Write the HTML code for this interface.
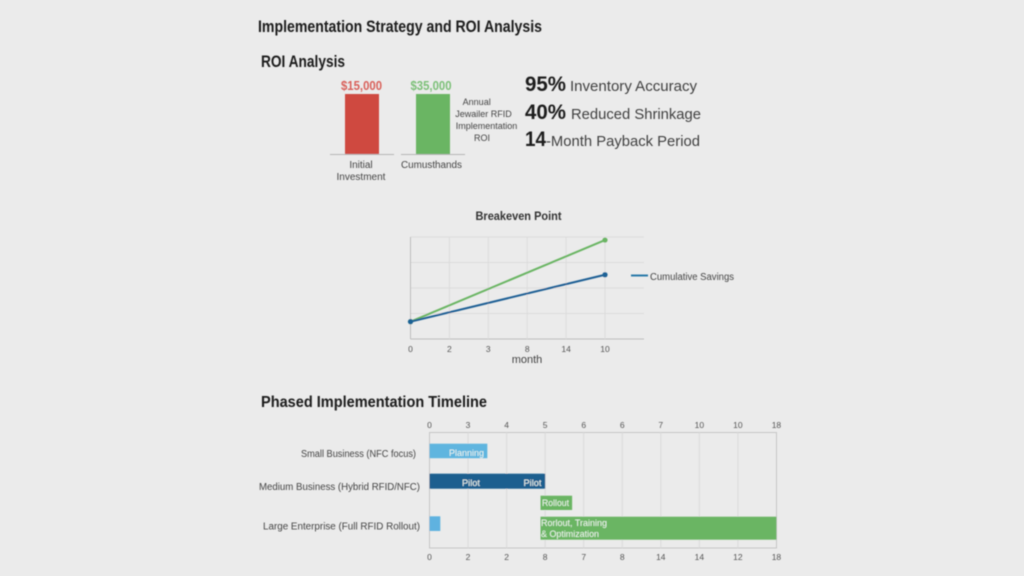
<!DOCTYPE html>
<html lang="en">
<head>
<meta charset="utf-8">
<title>Implementation Strategy and ROI Analysis</title>
<style>
html,body{margin:0;padding:0;width:1024px;height:576px;background:#ebebeb;overflow:hidden}
svg{display:block;font-family:"Liberation Sans",sans-serif}
</style>
</head>
<body>
<svg id="root" xmlns="http://www.w3.org/2000/svg" width="1024" height="576" viewBox="0 0 1024 576">
<defs><filter id="soft" x="-2%" y="-2%" width="104%" height="104%"><feGaussianBlur stdDeviation="0.45"/></filter></defs>
<rect width="1024" height="576" fill="#ebebeb"/>
<g id="scene" filter="url(#soft)">
<text x="258" y="32" font-size="17" font-weight="700" fill="#1b1b1b" textLength="284" lengthAdjust="spacingAndGlyphs">Implementation Strategy and ROI Analysis</text>
<text x="261" y="67" font-size="16.5" font-weight="700" fill="#1b1b1b" textLength="84" lengthAdjust="spacingAndGlyphs">ROI Analysis</text>

<g id="bars"></g>
<g font-size="9" fill="#444" text-anchor="middle">
<text x="476.7" y="105">Annual</text>
<text x="483.5" y="117">Jewailer RFID</text>
<text x="486.5" y="129">Implementation</text>
<text x="482" y="141">ROI</text>
</g>

<g>
<text x="525" y="91" font-size="21.5" font-weight="700" fill="#1b1b1b" textLength="41" lengthAdjust="spacingAndGlyphs">95%</text>
<text x="570" y="91" font-size="15" fill="#3f3f3f" textLength="127" lengthAdjust="spacingAndGlyphs">Inventory Accuracy</text>
</g>
<g>
<text x="525" y="119" font-size="21.5" font-weight="700" fill="#1b1b1b" textLength="41" lengthAdjust="spacingAndGlyphs">40%</text>
<text x="571" y="119" font-size="15" fill="#3f3f3f" textLength="130" lengthAdjust="spacingAndGlyphs">Reduced Shrinkage</text>
</g>
<g>
<text x="525" y="146" font-size="21.5" font-weight="700" fill="#1b1b1b" textLength="21" lengthAdjust="spacingAndGlyphs">14</text>
<text x="546" y="146" font-size="15" fill="#3f3f3f" textLength="154" lengthAdjust="spacingAndGlyphs">-Month Payback Period</text>
</g>

<text x="475.5" y="220" font-size="12" font-weight="700" fill="#333" textLength="86" lengthAdjust="spacingAndGlyphs">Breakeven Point</text>
<g id="line"></g>
<text x="527" y="363" font-size="11" fill="#444" text-anchor="middle">month</text>
<line x1="631" y1="275.5" x2="648" y2="275.5" stroke="#2a79a8" stroke-width="2"/>
<text x="650" y="280" font-size="10" fill="#444" textLength="84" lengthAdjust="spacingAndGlyphs">Cumulative Savings</text>

<text x="261" y="407" font-size="16" font-weight="700" fill="#1b1b1b" textLength="226" lengthAdjust="spacingAndGlyphs">Phased Implementation Timeline</text>
<g id="gantt"></g>
<text x="301" y="457" font-size="10" fill="#444" textLength="115" lengthAdjust="spacingAndGlyphs">Small Business (NFC focus)</text>
<text x="259" y="490" font-size="10" fill="#444" textLength="161" lengthAdjust="spacingAndGlyphs">Medium Business (Hybrid RFID/NFC)</text>
<text x="263" y="529.5" font-size="10" fill="#444" textLength="157" lengthAdjust="spacingAndGlyphs">Large Enterprise (Full RFID Rollout)</text>
</g>
</svg>
<script>
/* ROI bars: printed values and visible bar heights (the picture draws both bars equally tall) */
var barCategories = ['Initial', 'Cumusthands'];
var barPrinted = ['$15,000', '$35,000'];
var barHeights = [100, 100];

/* Breakeven chart */
var monthTicks = ['0', '2', '3', '8', '14', '10'];
var lineGreenValues = [17, null, null, null, null, 97];
var lineBlueValues = [17, null, null, null, null, 63];

/* Timeline chart, in tick-slot units */
var timelineTopTicks = ['0', '3', '4', '5', '6', '6', '7', '10', '10', '18'];
var timelineBottomTicks = ['0', '2', '2', '8', '7', '8', '14', '14', '12', '18'];
var taskNames = ['planning', 'pilot', 'rollout', 'large-start', 'rollout-training'];
var taskStarts = [0, 0, 2.88, 0, 2.88];
var taskEnds = [1.5, 3, 3.7, 0.28, 9];

var NS = 'http://www.w3.org/2000/svg';
function mk(tag, parent, attrs, txt) {
  var el = document.createElementNS(NS, tag);
  for (var k in attrs) el.setAttribute(k, attrs[k]);
  if (txt !== undefined) el.textContent = txt;
  parent.appendChild(el);
  return el;
}

/* ---------- bars ---------- */
var barsG = document.getElementById('bars');
var barBase = 154, barScale = 0.6;
var barX = function (i) { return 345 + i * 71; };
var barFill = ['#cf4a40', '#6ab563'];
var labelFill = ['#d9605a', '#7cc078'];
barHeights.forEach(function (v, i) {
  var h = v * barScale;
  var r = mk('rect', barsG, {x: barX(i), y: barBase - h, width: 34, height: h, fill: barFill[i]});
  
  
  var t = mk('text', barsG, {x: barX(i) + 16.5 - i * 1.5, y: barBase - h - 4, 'font-size': 12.5, fill: labelFill[i], 'text-anchor': 'middle', 'font-weight': 700, textLength: 41, lengthAdjust: 'spacingAndGlyphs'}, barPrinted[i]);
  
  
  var base = mk('line', barsG, {x1: barX(i) - 15, x2: barX(i) + 49, y1: barBase + .5, y2: barBase + .5, stroke: '#b5b5b5', 'stroke-width': 1});
  
  
});
var c1 = mk('text', barsG, {x: 361, y: 168, 'font-size': 10, fill: '#444', 'text-anchor': 'middle'}, barCategories[0]);


var c1b = mk('text', barsG, {x: 361, y: 180, 'font-size': 10, fill: '#444', 'text-anchor': 'middle'}, 'Investment');


var c2 = mk('text', barsG, {x: 401, y: 168, 'font-size': 10, fill: '#444', textLength: 61, lengthAdjust: 'spacingAndGlyphs'}, barCategories[1]);



/* ---------- line chart ---------- */
var lineG = document.getElementById('line');
var lx = function (i) { return 410.5 + i * 38.9; };
var ly = function (v) { return 339 - v * 1.02; };
[0, 25, 50, 75, 100].forEach(function (v) {
  var g = mk('line', lineG, {x1: 410.5, x2: 644, y1: ly(v), y2: ly(v), stroke: v === 0 ? '#bdbdbd' : '#dcdcdc', 'stroke-width': 1});
  
  
});
monthTicks.forEach(function (m, i) {
  var g = mk('line', lineG, {x1: lx(i), x2: lx(i), y1: 237, y2: 339, stroke: i === 0 ? '#bdbdbd' : '#dcdcdc', 'stroke-width': 1});
  
  
  var t = mk('text', lineG, {x: lx(i), y: 352, 'font-size': 8.5, fill: '#555', 'text-anchor': 'middle'}, m);
  
  
});
function drawSeries(vals, color, dot, name) {
  var pts = [];
  vals.forEach(function (v, i) { if (v !== null) pts.push([lx(i), ly(v)]); });
  var p = mk('polyline', lineG, {points: pts.map(function (a) { return a.join(','); }).join(' '), fill: 'none', stroke: color, 'stroke-width': 2});
  
  
  pts.forEach(function (a) {
    var c = mk('circle', lineG, {cx: a[0], cy: a[1], r: 2.6, fill: dot});
    
    
  });
}
drawSeries(lineGreenValues, '#6ab563', '#6ab563', 'green-series');
drawSeries(lineBlueValues, '#1f5f94', '#1f6296', 'cumulative-savings');

/* ---------- timeline ---------- */
var ganttG = document.getElementById('gantt');
var gx = function (u) { return 429.5 + u * 38.55; };
var frame = mk('rect', ganttG, {x: 429.5, y: 432.5, width: 347, height: 115.5, fill: 'none', stroke: '#c6c6c6', 'stroke-width': 1});


timelineTopTicks.forEach(function (m, i) {
  if (i > 0 && i < timelineTopTicks.length - 1) {
    var g = mk('line', ganttG, {x1: gx(i), x2: gx(i), y1: 432.5, y2: 548, stroke: '#dadada', 'stroke-width': 1});
    
    
  }
  var t = mk('text', ganttG, {x: gx(i), y: 428, 'font-size': 8.5, fill: '#555', 'text-anchor': 'middle'}, m);
  
  
  var b = mk('text', ganttG, {x: gx(i), y: 560, 'font-size': 8.5, fill: '#555', 'text-anchor': 'middle'}, timelineBottomTicks[i]);
  
  
});
var taskTop = [443.7, 473.7, 495.7, 516.3, 516.7];
var taskH = [14.5, 15, 14.3, 14.7, 23];
var taskFill = ['#5eb5df', '#1a5e8f', '#6ab563', '#5eb2e0', '#6ab563'];
taskNames.forEach(function (n, i) {
  var r = mk('rect', ganttG, {x: gx(taskStarts[i]), y: taskTop[i], width: gx(taskEnds[i]) - gx(taskStarts[i]), height: taskH[i], fill: taskFill[i]});
  
  
});
var labelTexts = ['Planning', 'Pilot', 'Pilot', 'Rollout', 'Rorlout, Training', '& Optimization'];
var labelTask = [0, 1, 1, 2, 4, 4];
var labelDx = [19.5, 32.5, 94, 1.5, 0.5, 0.5];
var labelDy = [12.3, 12.3, 12.3, 10.3, 9.3, 20.3];
var labelW = [35, 18, 18, 27, 66, 58];
labelTexts.forEach(function (s, i) {
  var k = labelTask[i];
  var t = mk('text', ganttG, {x: gx(taskStarts[k]) + labelDx[i], y: taskTop[k] + labelDy[i], 'font-size': 9.5, fill: '#eef6ee', textLength: labelW[i], lengthAdjust: 'spacingAndGlyphs'}, s);
  
  
});
</script>
</body>
</html>
